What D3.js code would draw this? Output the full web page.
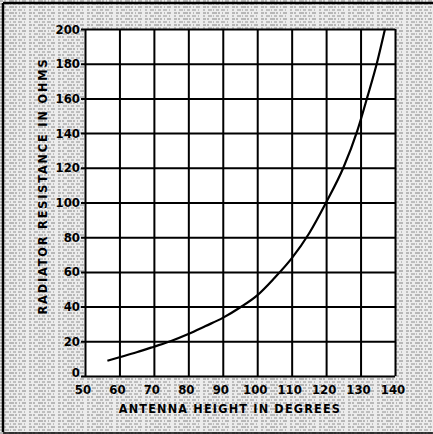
<!DOCTYPE html>
<html>
<head>
<meta charset="utf-8">
<script src="https://cdn.jsdelivr.net/npm/d3@7"></script>
<style>
html,body{margin:0;padding:0;background:#fff;}
svg{display:block;}
</style>
</head>
<body>
<svg id="chart" width="433" height="434"></svg>
<script>
// Data
const heightDeg = [56.5, 60, 65, 70, 75, 80, 85, 90, 95, 100, 105, 110, 115, 120, 125, 129, 132, 134.7, 137.1];
const resistance = [8.8, 10.8, 13.7, 16.9, 20.2, 24.2, 28.8, 33.5, 39.5, 46.5, 56.5, 67.8, 82, 100, 120, 141, 161, 180, 200];
const xTicks = [50, 60, 70, 80, 90, 100, 110, 120, 130, 140];
const yTicks = [0, 20, 40, 60, 80, 100, 120, 140, 160, 180, 200];
const xTitle = "ANTENNA HEIGHT IN DEGREES";
const yTitle = "RADIATOR RESISTANCE IN OHMS";

const svg = d3.select("#chart");
const W = 433, H = 434;

// halftone-like background texture
const defs = svg.append("defs");
const pat = defs.append("pattern").attr("id","tex").attr("patternUnits","userSpaceOnUse")
  .attr("width", 29).attr("height", 6);
pat.append("rect").attr("width",29).attr("height",6).attr("fill","#ececec");
pat.append("line").attr("x1",0).attr("x2",29).attr("y1",1).attr("y2",1)
  .attr("stroke","#666").attr("stroke-width",0.8).attr("stroke-dasharray","3 1 2 3 5 1 2 2 1 2 4 3");
pat.append("line").attr("x1",0).attr("x2",29).attr("y1",4).attr("y2",4)
  .attr("stroke","#777").attr("stroke-width",0.8).attr("stroke-dasharray","2 3 4 1 1 2 3 2 4 2 1 4");

svg.append("rect").attr("width",W).attr("height",H).attr("fill","url(#tex)");

// outer frame lines
svg.append("line").attr("x1",3).attr("x2",3).attr("y1",3).attr("y2",H-2).attr("stroke","#000").attr("stroke-width",2.5);
svg.append("line").attr("x1",3).attr("x2",W).attr("y1",3).attr("y2",3).attr("stroke","#000").attr("stroke-width",2.5);
svg.append("line").attr("x1",3).attr("x2",W).attr("y1",H-1).attr("y2",H-1).attr("stroke","#000").attr("stroke-width",1.5);

const x = d3.scaleLinear().domain([50,140]).range([85,395]);
const y = d3.scaleLinear().domain([0,200]).range([376,29]);

// plot area
svg.append("rect").attr("x",x(50)).attr("y",y(200)).attr("width",x(140)-x(50)).attr("height",y(0)-y(200)).attr("fill","#fff");

// grid via axes
const gx = svg.append("g").attr("transform",`translate(0,${y(0)})`)
  .call(d3.axisBottom(x).tickValues(xTicks).tickSize(-(y(0)-y(200))).tickFormat(""));
gx.select(".domain").remove();
gx.selectAll("line").attr("stroke","#000").attr("stroke-width",2);

const gy = svg.append("g").attr("transform",`translate(${x(50)},0)`)
  .call(d3.axisLeft(y).tickValues(yTicks).tickSize(-(x(140)-x(50))).tickFormat(""));
gy.select(".domain").remove();
gy.selectAll("line").attr("stroke","#000").attr("stroke-width",2).attr("x1",-4);

// tick labels
const labFont = "'DejaVu Sans Condensed','DejaVu Sans',sans-serif";
svg.append("g").selectAll("text").data(yTicks).join("text")
  .attr("x", 80).attr("y", d => y(d) + (d === 0 ? 1 : 4.5))
  .attr("text-anchor","end").attr("font-family",labFont).attr("font-size",13)
  .attr("font-weight","bold").attr("fill","#000")
  .text(d => d);

svg.append("g").selectAll("text").data(xTicks).join("text")
  .attr("x", d => x(d) - 2).attr("y", 394)
  .attr("text-anchor","middle").attr("font-family",labFont).attr("font-size",13)
  .attr("font-weight","bold").attr("fill","#000")
  .text(d => d);

// titles
svg.append("text").attr("x",230).attr("y",413).attr("text-anchor","middle")
  .attr("font-family",labFont).attr("font-size",12.5).attr("font-weight","bold")
  .attr("letter-spacing",1.2).attr("fill","#000").text(xTitle);

svg.append("text").attr("transform","translate(47,186) rotate(-90)").attr("text-anchor","middle")
  .attr("font-family",labFont).attr("font-size",12.5).attr("font-weight","bold")
  .attr("letter-spacing",1.9).attr("fill","#000").text(yTitle);

// curve
const pts = heightDeg.map((d,i)=>[d, resistance[i]]);
const line = d3.line().x(d=>x(d[0])).y(d=>y(d[1])).curve(d3.curveMonotoneX);
svg.append("path").datum(pts).attr("d",line).attr("fill","none")
  .attr("stroke","#000").attr("stroke-width",2.2);
</script>
</body>
</html>
